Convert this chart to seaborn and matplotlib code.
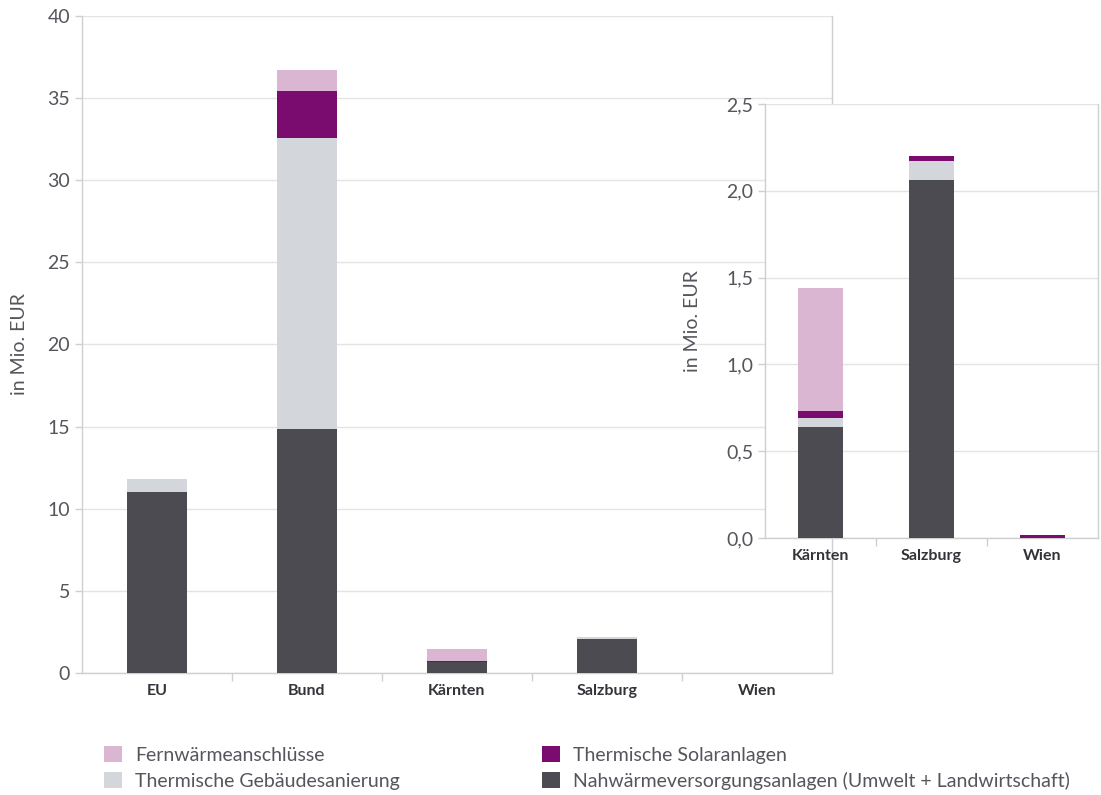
import numpy as np
import pandas as pd
import matplotlib
matplotlib.use("Agg")
import matplotlib.pyplot as plt
import seaborn as sns
from matplotlib.patches import Patch
from matplotlib.ticker import FuncFormatter

# values in Mio. EUR
regions = ["EU", "Bund", "Kärnten", "Salzburg", "Wien"]
nahwaerme = [11.0, 14.85, 0.64, 2.06, 0.0]
gebaeude = [0.8, 17.7, 0.05, 0.11, 0.0]
solar = [0.0, 2.86, 0.04, 0.03, 0.02]
fernwaerme = [0.0, 1.28, 0.71, 0.0, 0.0]

inset_regions = ["Kärnten", "Salzburg", "Wien"]

series_names = ["Fernwärmeanschlüsse", "Thermische Gebäudesanierung",
                "Thermische Solaranlagen",
                "Nahwärmeversorgungsanlagen (Umwelt + Landwirtschaft)"]
colors = {"Fernwärmeanschlüsse": "#dbb6d2",
          "Thermische Gebäudesanierung": "#d3d6da",
          "Thermische Solaranlagen": "#7b0c6f",
          "Nahwärmeversorgungsanlagen (Umwelt + Landwirtschaft)": "#4b4b51"}

sns.set_theme(style="white")
plt.rcParams['font.family'] = ['Lato', 'DejaVu Sans']
text_col = "#55555c"
grid_col = "#e4e4e4"
spine_col = "#cfcfcf"

df = pd.DataFrame({"region": regions, "nah": nahwaerme, "geb": gebaeude,
                   "sol": solar, "fern": fernwaerme})
df["c_nah"] = df["nah"]
df["c_geb"] = df["c_nah"] + df["geb"]
df["c_sol"] = df["c_geb"] + df["sol"]
df["c_fern"] = df["c_sol"] + df["fern"]

# drawn from the top segment down, each layer covers the one before
layers = [("c_fern", series_names[0]), ("c_sol", series_names[2]),
          ("c_geb", series_names[1]), ("c_nah", series_names[3])]


def stacked(ax, data, order):
    for col, name in layers:
        sns.barplot(data=data, x="region", y=col, order=order, color=colors[name],
                    width=0.4, saturation=1, ax=ax, zorder=3,
                    linewidth=0, edgecolor="none")


def style_axes(ax):
    ax.grid(axis="y", color=grid_col, linewidth=1, zorder=0)
    ax.set_axisbelow(True)
    for s in ["left", "right", "bottom"]:
        ax.spines[s].set_color(spine_col)
        ax.spines[s].set_linewidth(1)
    ax.spines["top"].set_visible(False)
    ax.set_xlabel("")
    ax.tick_params(axis="y", colors=spine_col, labelcolor=text_col, labelsize=14,
                   length=5, width=1, left=True, direction="out")
    ax.tick_params(axis="x", which="major", length=0, labelsize=11.5,
                   labelcolor="#333338", pad=8)
    ax.tick_params(axis="x", which="minor", length=6, width=1, colors=spine_col,
                   bottom=True, direction="out")
    for lab in ax.get_xticklabels():
        lab.set_fontweight("bold")


fig = plt.figure(figsize=(11.01, 7.95), dpi=100)

ax = fig.add_axes([0.0745, 0.1535, 0.681, 0.8264])
stacked(ax, df, regions)
ax.set_ylim(0, 40)
ax.set_xlim(-0.5, 4.5)
ax.set_yticks(np.arange(0, 41, 5))
ax.set_xticks([0.5, 1.5, 2.5, 3.5], minor=True)
style_axes(ax)
ax.set_ylabel("in Mio. EUR", fontsize=14, color=text_col, labelpad=14)

axi = fig.add_axes([0.6948, 0.3233, 0.3025, 0.546])
axi.set_facecolor("white")
sub = df[df["region"].isin(inset_regions)]
stacked(axi, sub, inset_regions)
axi.set_ylim(0, 2.5)
axi.set_xlim(-0.5, 2.5)
axi.set_yticks(np.arange(0, 2.51, 0.5))
axi.yaxis.set_major_formatter(FuncFormatter(lambda v, p: f"{v:.1f}".replace(".", ",")))
axi.set_xticks([0.5, 1.5], minor=True)
style_axes(axi)
axi.set_ylabel("in Mio. EUR", fontsize=14, color=text_col, labelpad=18)

handles = [Patch(facecolor=colors[n], edgecolor="none") for n in series_names]
fig.legend(handles, series_names, ncol=2, loc="upper left",
           bbox_to_anchor=(0.0945, 0.062),
           frameon=False, fontsize=14, labelcolor=text_col,
           handlelength=0.93, handleheight=0.93, handletextpad=0.67,
           columnspacing=7.3, labelspacing=0.42, borderaxespad=0, borderpad=0)

fig.savefig("out.png", dpi=100)
